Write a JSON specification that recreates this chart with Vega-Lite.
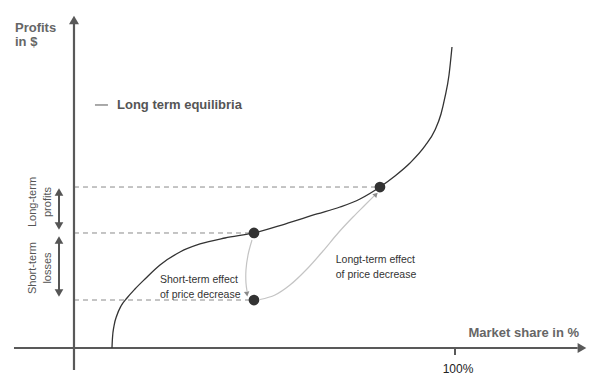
{
  "$schema": "https://vega.github.io/schema/vega-lite/v6.json",
  "width": 600,
  "height": 380,
  "padding": 0,
  "autosize": {"type": "fit", "contains": "padding"},
  "background": "white",
  "config": {"view": {"stroke": null}, "font": "Liberation Sans"},
  "datasets": {
    "axes": [
      {"x": -15.75, "y": 0, "x2": 132.2, "y2": 0},
      {"x": 0, "y": -6.32, "x2": 0, "y2": 93.68}
    ],
    "yArrow": [{"x": 0, "y": 94.25}],
    "xArrow": [{"x": 133.33, "y": 0}],
    "tick": [{"x": 100, "y": 0, "x2": 100, "y2": -2.01}],
    "tickLabel": [{"x": 100.8, "y": -5.9, "label": "100%"}],
    "curve": [
      {"x": 9.97, "y": 0},
      {"x": 10.1, "y": 2.87},
      {"x": 10.5, "y": 6.32},
      {"x": 11.29, "y": 9.48},
      {"x": 12.34, "y": 12.07},
      {"x": 13.91, "y": 14.37},
      {"x": 16.01, "y": 16.95},
      {"x": 18.64, "y": 19.83},
      {"x": 22.57, "y": 23.85},
      {"x": 27.82, "y": 27.59},
      {"x": 33.07, "y": 29.89},
      {"x": 39.63, "y": 31.61},
      {"x": 47.24, "y": 33.05},
      {"x": 55.38, "y": 35.63},
      {"x": 63.78, "y": 38.51},
      {"x": 69.82, "y": 40.52},
      {"x": 75.07, "y": 42.82},
      {"x": 80.31, "y": 46.26},
      {"x": 84.25, "y": 49.43},
      {"x": 88.19, "y": 53.16},
      {"x": 92.13, "y": 58.05},
      {"x": 94.75, "y": 62.64},
      {"x": 96.33, "y": 67.24},
      {"x": 97.38, "y": 72.13},
      {"x": 98.43, "y": 78.45},
      {"x": 99.21, "y": 86.49}
    ],
    "guides": [
      {"x": 0, "y": 46.26, "x2": 80.31},
      {"x": 0, "y": 33.05, "x2": 47.24},
      {"x": 0, "y": 13.79, "x2": 47.24}
    ],
    "equilibria": [
      {"x": 47.24, "y": 33.05},
      {"x": 80.31, "y": 46.26},
      {"x": 47.24, "y": 13.79}
    ],
    "shortArrow": [
      {"x": 46.72, "y": 31.03, "order": 1},
      {"x": 45.67, "y": 26.72, "order": 2},
      {"x": 45.14, "y": 22.41, "order": 3},
      {"x": 45.14, "y": 18.68, "order": 4},
      {"x": 45.41, "y": 16.38, "order": 5}
    ],
    "shortHead": [{"x": 45.4, "y": 15.5}],
    "longArrow": [
      {"x": 48.82, "y": 13.94},
      {"x": 52.76, "y": 15.23},
      {"x": 56.69, "y": 18.1},
      {"x": 61.15, "y": 22.7},
      {"x": 65.35, "y": 27.87},
      {"x": 69.55, "y": 33.33},
      {"x": 73.23, "y": 37.64},
      {"x": 76.38, "y": 41.09},
      {"x": 78.74, "y": 43.68}
    ],
    "longHead": [{"x": 79.27, "y": 44.11}],
    "rangeLines": [
      {"x": -3.94, "y": 44.83, "y2": 35.06},
      {"x": -3.94, "y": 31.03, "y2": 15.8}
    ],
    "rangeUp": [{"x": -3.94, "y": 44.86}, {"x": -3.94, "y": 31.06}],
    "rangeDown": [{"x": -3.94, "y": 35.03}, {"x": -3.94, "y": 15.78}],
    "sideLabels": [
      {"x": -10.76, "y": 41.95, "label": "Long-term\nprofits"},
      {"x": -10.76, "y": 22.99, "label": "Short-term\nlosses"}
    ],
    "profitsTitle": [{"x": -15.49, "y": 91.95, "label": "Profits\nin $"}],
    "shareTitle": [{"x": 132.55, "y": 4.31, "label": "Market share in %"}],
    "legendDash": [{"x": 5.51, "y": 69.83, "x2": 8.92}],
    "legendText": [{"x": 11.29, "y": 69.83, "label": "Long term equilibria"}],
    "effectLabels": [
      {"x": 22.57, "y": 19.68, "label": "Short-term effect\nof price decrease"},
      {"x": 68.7, "y": 25.29, "label": "Longt-term effect\nof price decrease"}
    ]
  },
  "encoding": {
    "x": {"field": "x", "type": "quantitative", "axis": null, "scale": {"domain": [-19.42, 138.06], "nice": false, "zero": false}},
    "y": {"field": "y", "type": "quantitative", "axis": null, "scale": {"domain": [-9.195, 100], "nice": false, "zero": false}}
  },
  "layer": [
    {
      "data": {"name": "guides"},
      "mark": {"type": "rule", "stroke": "#8a8a8a", "strokeWidth": 1, "strokeDash": [5, 4]},
      "encoding": {"x2": {"field": "x2"}}
    },
    {
      "data": {"name": "axes"},
      "mark": {"type": "rule", "stroke": "#595959", "strokeWidth": 2.2},
      "encoding": {"x2": {"field": "x2"}, "y2": {"field": "y2"}}
    },
    {
      "data": {"name": "yArrow"},
      "mark": {"type": "point", "shape": "triangle-up", "filled": true, "size": 100, "color": "#595959", "opacity": 1}
    },
    {
      "data": {"name": "xArrow"},
      "mark": {"type": "point", "shape": "triangle-right", "filled": true, "size": 100, "color": "#595959", "opacity": 1}
    },
    {
      "data": {"name": "tick"},
      "mark": {"type": "rule", "stroke": "#595959", "strokeWidth": 2},
      "encoding": {"y2": {"field": "y2"}}
    },
    {
      "data": {"name": "tickLabel"},
      "mark": {"type": "text", "fontSize": 12, "color": "#222222", "align": "center", "baseline": "middle"},
      "encoding": {"text": {"field": "label"}}
    },
    {
      "data": {"name": "shortArrow"},
      "mark": {"type": "line", "interpolate": "catmull-rom", "stroke": "#c4c4c4", "strokeWidth": 1.2},
      "encoding": {"order": {"field": "order", "type": "quantitative"}}
    },
    {
      "data": {"name": "shortHead"},
      "mark": {"type": "point", "shape": "triangle-up", "filled": true, "size": 30, "color": "#8a8a8a", "opacity": 1, "angle": 172}
    },
    {
      "data": {"name": "longArrow"},
      "mark": {"type": "line", "interpolate": "monotone", "stroke": "#c4c4c4", "strokeWidth": 1.2}
    },
    {
      "data": {"name": "longHead"},
      "mark": {"type": "point", "shape": "triangle-up", "filled": true, "size": 30, "color": "#8a8a8a", "opacity": 1, "angle": 45}
    },
    {
      "data": {"name": "curve"},
      "mark": {"type": "line", "interpolate": "monotone", "stroke": "#333333", "strokeWidth": 1.3}
    },
    {
      "data": {"name": "equilibria"},
      "mark": {"type": "point", "shape": "circle", "filled": true, "size": 115, "color": "#333333", "opacity": 1}
    },
    {
      "data": {"name": "rangeLines"},
      "mark": {"type": "rule", "stroke": "#555555", "strokeWidth": 2},
      "encoding": {"y2": {"field": "y2"}}
    },
    {
      "data": {"name": "rangeUp"},
      "mark": {"type": "point", "shape": "triangle-up", "filled": true, "size": 75, "color": "#555555", "opacity": 1}
    },
    {
      "data": {"name": "rangeDown"},
      "mark": {"type": "point", "shape": "triangle-down", "filled": true, "size": 75, "color": "#555555", "opacity": 1}
    },
    {
      "data": {"name": "sideLabels"},
      "mark": {"type": "text", "fontSize": 11, "color": "#555555", "angle": 270, "align": "center", "baseline": "middle", "lineBreak": "\n", "lineHeight": 15},
      "encoding": {"text": {"field": "label"}}
    },
    {
      "data": {"name": "profitsTitle"},
      "mark": {"type": "text", "fontSize": 13, "fontWeight": "bold", "color": "#666666", "align": "left", "baseline": "middle", "lineBreak": "\n", "lineHeight": 14},
      "encoding": {"text": {"field": "label"}}
    },
    {
      "data": {"name": "shareTitle"},
      "mark": {"type": "text", "fontSize": 13, "fontWeight": "bold", "color": "#666666", "align": "right", "baseline": "middle"},
      "encoding": {"text": {"field": "label"}}
    },
    {
      "data": {"name": "legendDash"},
      "mark": {"type": "rule", "stroke": "#555555", "strokeWidth": 1},
      "encoding": {"x2": {"field": "x2"}}
    },
    {
      "data": {"name": "legendText"},
      "mark": {"type": "text", "fontSize": 13, "fontWeight": "bold", "color": "#555555", "align": "left", "baseline": "middle"},
      "encoding": {"text": {"field": "label"}}
    },
    {
      "data": {"name": "effectLabels"},
      "mark": {"type": "text", "fontSize": 10.5, "color": "#333333", "align": "left", "baseline": "middle", "lineBreak": "\n", "lineHeight": 15},
      "encoding": {"text": {"field": "label"}}
    }
  ]
}
